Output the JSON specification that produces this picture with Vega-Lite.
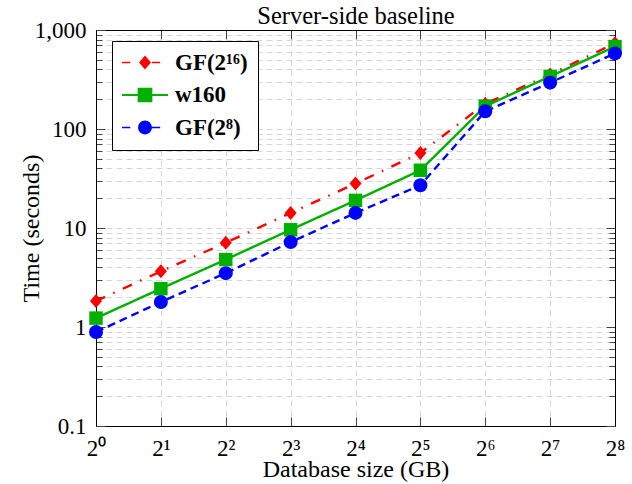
{
  "$schema": "https://vega.github.io/schema/vega-lite/v6.json",
  "width": 519,
  "height": 396,
  "autosize": "none",
  "padding": {"left": 96, "top": 30, "right": 17, "bottom": 58},
  "background": "white",
  "config": {"font": "Liberation Serif", "view": {"stroke": "black", "strokeWidth": 1}},
  "data": {"values": [
    {"series": "GF(2¹⁶)", "size": 1, "time": 1.83},
    {"series": "GF(2¹⁶)", "size": 2, "time": 3.65},
    {"series": "GF(2¹⁶)", "size": 4, "time": 7.1},
    {"series": "GF(2¹⁶)", "size": 8, "time": 14.2},
    {"series": "GF(2¹⁶)", "size": 16, "time": 28.1},
    {"series": "GF(2¹⁶)", "size": 32, "time": 57.3},
    {"series": "GF(2¹⁶)", "size": 64, "time": 180},
    {"series": "GF(2¹⁶)", "size": 128, "time": 355},
    {"series": "GF(2¹⁶)", "size": 256, "time": 735},
    {"series": "w160", "size": 1, "time": 1.23},
    {"series": "w160", "size": 2, "time": 2.44},
    {"series": "w160", "size": 4, "time": 4.8},
    {"series": "w160", "size": 8, "time": 9.6},
    {"series": "w160", "size": 16, "time": 19},
    {"series": "w160", "size": 32, "time": 38.3},
    {"series": "w160", "size": 64, "time": 170},
    {"series": "w160", "size": 128, "time": 340},
    {"series": "w160", "size": 256, "time": 680},
    {"series": "GF(2⁸)", "size": 1, "time": 0.89},
    {"series": "GF(2⁸)", "size": 2, "time": 1.79},
    {"series": "GF(2⁸)", "size": 4, "time": 3.5},
    {"series": "GF(2⁸)", "size": 8, "time": 7.2},
    {"series": "GF(2⁸)", "size": 16, "time": 14.2},
    {"series": "GF(2⁸)", "size": 32, "time": 27},
    {"series": "GF(2⁸)", "size": 64, "time": 151},
    {"series": "GF(2⁸)", "size": 128, "time": 294},
    {"series": "GF(2⁸)", "size": 256, "time": 580}
  ]},
  "layer": [
    {
      "mark": {"type": "line", "strokeWidth": 2.4},
      "encoding": {
        "x": {"field": "size", "type": "quantitative",
          "scale": {"type": "log", "base": 2, "domain": [1, 256], "nice": false},
          "axis": {"orient": "bottom", "values": [1, 2, 4, 8, 16, 32, 64, 128, 256],
            "labelExpr": "'2' + ['⁰','¹','²','³','⁴','⁵','⁶','⁷','⁸'][round(log(datum.value)/LN2)]",
            "labelFontSize": 23, "labelColor": "black", "labelBaseline": "alphabetic", "labelPadding": 38,
            "labelFlush": false, "labelOverlap": false, "labelBound": false,
            "tickSize": -9, "tickColor": "#444",
            "domainColor": "black",
            "grid": true, "gridColor": "#d6d6d6", "gridDash": [6, 4], "gridWidth": 1,
            "title": "Database size (GB)", "titleFontSize": 24, "titleFontWeight": "normal", "titleColor": "black",
            "titleY": 50, "titleBaseline": "alphabetic"}},
        "y": {"field": "time", "type": "quantitative",
          "scale": {"type": "log", "domain": [0.1, 1000], "nice": false},
          "axis": {"orient": "left",
            "values": [0.1, 0.2, 0.3, 0.4, 0.5, 0.6, 0.7, 0.8, 0.9, 1, 2, 3, 4, 5, 6, 7, 8, 9, 10, 20, 30, 40, 50, 60, 70, 80, 90, 100, 200, 300, 400, 500, 600, 700, 800, 900, 1000],
            "labelExpr": "datum.value == 1 ? '1' : (datum.value == 0.1 ? '0.1' : (datum.value == 10 ? '10' : (datum.value == 100 ? '100' : (datum.value == 1000 ? '1,000' : ''))))",
            "labelFontSize": 23, "labelColor": "black",
            "labelPadding": {"condition": {"test": "abs(log(datum.value)/LN10 - round(log(datum.value)/LN10)) < 0.001", "value": 19}, "value": 150},
            "labelFlush": false, "labelOverlap": false, "labelBound": false,
            "tickSize": {"condition": {"test": "abs(log(datum.value)/LN10 - round(log(datum.value)/LN10)) < 0.001", "value": -9}, "value": -6},
            "tickColor": "#444", "domainColor": "black",
            "grid": true, "gridColor": "#d6d6d6", "gridDash": [6, 4], "gridWidth": 1,
            "title": "Time (seconds)", "titleFontSize": 24, "titleFontWeight": "normal", "titleColor": "black",
            "titleAngle": 270, "titleX": -58, "titleY": 198, "titleAlign": "center", "titleBaseline": "alphabetic"}},
        "color": {"field": "series", "type": "nominal",
          "scale": {"domain": ["GF(2¹⁶)", "w160", "GF(2⁸)"], "range": ["#ff0000", "#00b000", "#0000ff"]}, "legend": null},
        "strokeDash": {"field": "series", "type": "nominal",
          "scale": {"domain": ["GF(2¹⁶)", "w160", "GF(2⁸)"], "range": [[10, 9, 1.5, 9], [1, 0], [8, 5]]}, "legend": null},
        "order": {"field": "size", "type": "quantitative"}
      }
    },
    {
      "mark": {"type": "point", "filled": true, "opacity": 1, "size": 196, "strokeWidth": 0},
      "encoding": {
        "x": {"field": "size", "type": "quantitative",
          "axis": {"orient": "top", "values": [1, 2, 4, 8, 16, 32, 64, 128, 256], "labels": false, "grid": false,
            "tickSize": -9, "tickColor": "#444", "domainColor": "black",
            "title": "Server-side baseline", "titleFontSize": 24.5, "titleFontWeight": "normal", "titleColor": "black",
            "titleX": 259.5, "titleY": -7, "titleAlign": "center", "titleBaseline": "alphabetic"}},
        "y": {"field": "time", "type": "quantitative",
          "axis": {"orient": "right", "labels": false, "title": null, "grid": false,
            "values": [0.1, 0.2, 0.3, 0.4, 0.5, 0.6, 0.7, 0.8, 0.9, 1, 2, 3, 4, 5, 6, 7, 8, 9, 10, 20, 30, 40, 50, 60, 70, 80, 90, 100, 200, 300, 400, 500, 600, 700, 800, 900, 1000],
            "tickSize": {"condition": {"test": "abs(log(datum.value)/LN10 - round(log(datum.value)/LN10)) < 0.001", "value": -9}, "value": -6},
            "tickColor": "#444", "domainColor": "black"}},
        "color": {"field": "series", "type": "nominal", "legend": null},
        "shape": {"field": "series", "type": "nominal",
          "scale": {"domain": ["GF(2¹⁶)", "w160", "GF(2⁸)"], "range": ["M0,-1L0.86,0L0,1L-0.86,0Z", "M-0.96,-0.96H0.96V0.96H-0.96Z", "circle"]},
          "legend": null}
      }
    },
    {
      "transform": [{"filter": "false"}],
      "mark": {"type": "point", "filled": true, "opacity": 1},
      "encoding": {
        "x": {"field": "size", "type": "quantitative", "axis": null},
        "y": {"field": "time", "type": "quantitative", "axis": null},
        "color": {"field": "series", "type": "nominal",
          "legend": {"title": null, "orient": "none", "legendX": 16, "legendY": 11,
            "labelFont": "Liberation Serif", "labelFontSize": 23, "labelFontWeight": "bold", "labelColor": "black", "labelLimit": 300,
            "labelExpr": "datum.label + '\u00a0\u00a0\u00a0\u00a0'",
            "symbolSize": 529, "symbolStrokeWidth": 0, "symbolOpacity": 1, "symbolOffset": 11.5, "labelOffset": 18.5, "rowPadding": 8.5, "padding": 10,
            "strokeColor": "black", "fillColor": "white"}},
        "shape": {"field": "series", "type": "nominal",
          "scale": {"domain": ["GF(2¹⁶)", "w160", "GF(2⁸)"], "range": [
            "M-2,-0.07H-1.28V0.07H-2Z M0.6,-0.07H1.32V0.07H0.6Z M0,-0.6L0.52,0L0,0.6L-0.52,0Z",
            "M-2,-0.08H2V0.08H-2Z M-0.64,-0.64H0.64V0.64H-0.64Z",
            "M-2,-0.07H-1.28V0.07H-2Z M0.6,-0.07H1.32V0.07H0.6Z M-0.6,0A0.6,0.6,0,1,0,0.6,0A0.6,0.6,0,1,0,-0.6,0Z"
          ]},
          "legend": {"title": null, "orient": "none", "legendX": 16, "legendY": 11,
            "labelFont": "Liberation Serif", "labelFontSize": 23, "labelFontWeight": "bold", "labelColor": "black", "labelLimit": 300,
            "labelExpr": "datum.label + '\u00a0\u00a0\u00a0\u00a0'",
            "symbolSize": 529, "symbolStrokeWidth": 0, "symbolOpacity": 1, "symbolOffset": 11.5, "labelOffset": 18.5, "rowPadding": 8.5, "padding": 10,
            "strokeColor": "black", "fillColor": "white"}}
      }
    }
  ],
  "resolve": {"scale": {"shape": "independent"}, "axis": {"x": "independent", "y": "independent"}, "legend": {"color": "independent", "shape": "independent"}}
}
